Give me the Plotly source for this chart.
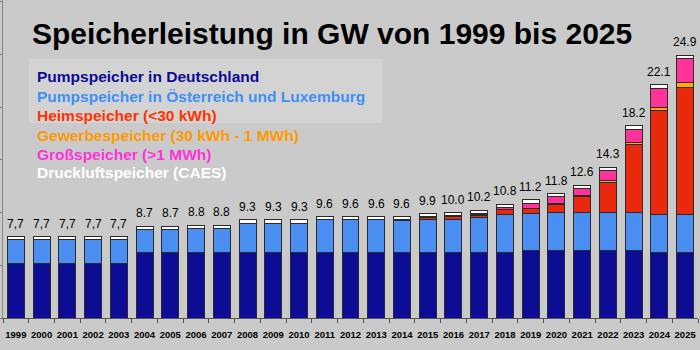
import plotly.graph_objects as go

years = [str(y) for y in range(1999, 2026)]

pump_de = [5.15, 5.15, 5.15, 5.15, 5.15,
           6.2, 6.2, 6.2, 6.2, 6.2, 6.2, 6.2, 6.2, 6.2, 6.2, 6.2, 6.2, 6.2, 6.2, 6.2,
           6.4, 6.4, 6.4, 6.4, 6.4, 6.2, 6.2]
pump_at_lu = [2.25, 2.25, 2.25, 2.25, 2.25,
              2.2, 2.2, 2.3, 2.3, 2.8, 2.8, 2.8, 3.1, 3.1, 3.1, 3.05, 3.15, 3.15, 3.3, 3.6,
              3.55, 3.6, 3.6, 3.6, 3.6, 3.65, 3.65]
heim = [0, 0, 0, 0, 0, 0, 0, 0, 0, 0, 0, 0, 0, 0, 0, 0.05, 0.15, 0.25, 0.25, 0.45,
        0.4, 0.8, 1.5, 2.8, 6.4, 9.85, 12.0]
gewerbe = [0, 0, 0, 0, 0, 0, 0, 0, 0, 0, 0, 0, 0, 0, 0, 0, 0, 0, 0.05, 0.05,
           0.05, 0.1, 0.15, 0.2, 0.25, 0.3, 0.45]
gross = [0, 0, 0, 0, 0, 0, 0, 0, 0, 0, 0, 0, 0, 0, 0, 0, 0.1, 0.1, 0.1, 0.2,
         0.5, 0.6, 0.65, 1.0, 1.25, 1.8, 2.3]
caes = [0.3] * 27

total_labels = ["7,7", "7,7", "7,7", "7,7", "7,7",
                "8.7", "8.7", "8.8", "8.8", "9.3", "9.3", "9.3", "9.6", "9.6", "9.6", "9.6",
                "9.9", "10.0", "10.2", "10.8", "11.2", "11.8", "12.6", "14.3", "18.2", "22.1", "24.9"]

series_names = ["Pumpspeicher in Deutschland", "Pumpspeicher in Österreich und Luxemburg",
                "Heimspeicher (<30 kWh)", "Gewerbespeicher (30 kWh - 1 MWh)",
                "Großspeicher (>1 MWh)", "Druckluftspeicher (CAES)"]
series_values = [pump_de, pump_at_lu, heim, gewerbe, gross, caes]
bar_colors = ["#0c0c94", "#4a8ef2", "#e8290c", "#ffaa00", "#ff3399", "#ffffff"]
text_colors = ["#0c0c94", "#3f8ff5", "#ff3300", "#ff9900", "#ff33dd", "#ffffff"]

title_text = "Speicherleistung in GW von 1999 bis 2025"

FONT = "Liberation Sans, Arial, sans-serif"
W, H = 700, 350
ML, MR, MT, MB = 1, 2, 0, 32
PW, PH = W - ML - MR, H - MT - MB


def px_x(p):
    return (p - ML) / PW


def px_y(p):
    return (H - MB - p) / PH


fig = go.Figure()
for name, vals, col in zip(series_names, series_values, bar_colors):
    fig.add_trace(go.Bar(
        x=years, y=vals, name=name,
        marker=dict(color=col, line=dict(color="#2a2a2a", width=1)),
        showlegend=False, hoverinfo="skip",
    ))

totals = [sum(v[i] for v in series_values) for i in range(len(years))]
for i, (tot, lab) in enumerate(zip(totals, total_labels)):
    fig.add_annotation(x=i, y=tot, xref="x", yref="y", text=lab, showarrow=False,
                       xanchor="center", yanchor="bottom", yshift=4,
                       font=dict(family=FONT, size=12, color="#000000"))

# legend box
fig.add_shape(type="rect", xref="paper", yref="paper",
              x0=px_x(27), x1=px_x(381), y0=px_y(123), y1=px_y(59),
              fillcolor="#d3d3d3", line=dict(width=0), layer="below")

legend_y = [77, 96, 115, 135, 154, 172]
for name, col, yy in zip(series_names, text_colors, legend_y):
    fig.add_annotation(text="<b>" + name + "</b>", xref="paper", yref="paper",
                       x=px_x(33), y=px_y(yy), xanchor="left", yanchor="middle",
                       showarrow=False, font=dict(family=FONT, size=15.5, color=col))

fig.add_annotation(text="<b>" + title_text + "</b>", xref="paper", yref="paper",
                   x=px_x(331), y=px_y(34), xanchor="center", yanchor="middle",
                   showarrow=False, font=dict(family=FONT, size=30, color="#000000"))

fig.update_layout(
    width=W, height=H,
    margin=dict(l=ML, r=MR, t=MT, b=MB),
    barmode="stack", bargap=0.34,
    paper_bgcolor="#cacaca", plot_bgcolor="#cacaca",
    xaxis=dict(type="category", range=[-0.5, 26.5], showgrid=False,
               ticks="outside", tickson="boundaries", ticklen=4, tickcolor="#555555",
               showline=True, linecolor="#555555", linewidth=1, tickangle=0,
               ticklabelstandoff=8,
               tickfont=dict(family=FONT, size=9.5, color="#000000"),
               tickvals=years, ticktext=["<b>" + y + "</b>" for y in years]),
    yaxis=dict(range=[0, PH / 10.55], showgrid=False, zeroline=False,
               showticklabels=False, ticks="outside", ticklen=3, dtick=5,
               tickcolor="#777777", showline=True, linecolor="#888888", linewidth=1),
)

fig.write_html("out.html")
